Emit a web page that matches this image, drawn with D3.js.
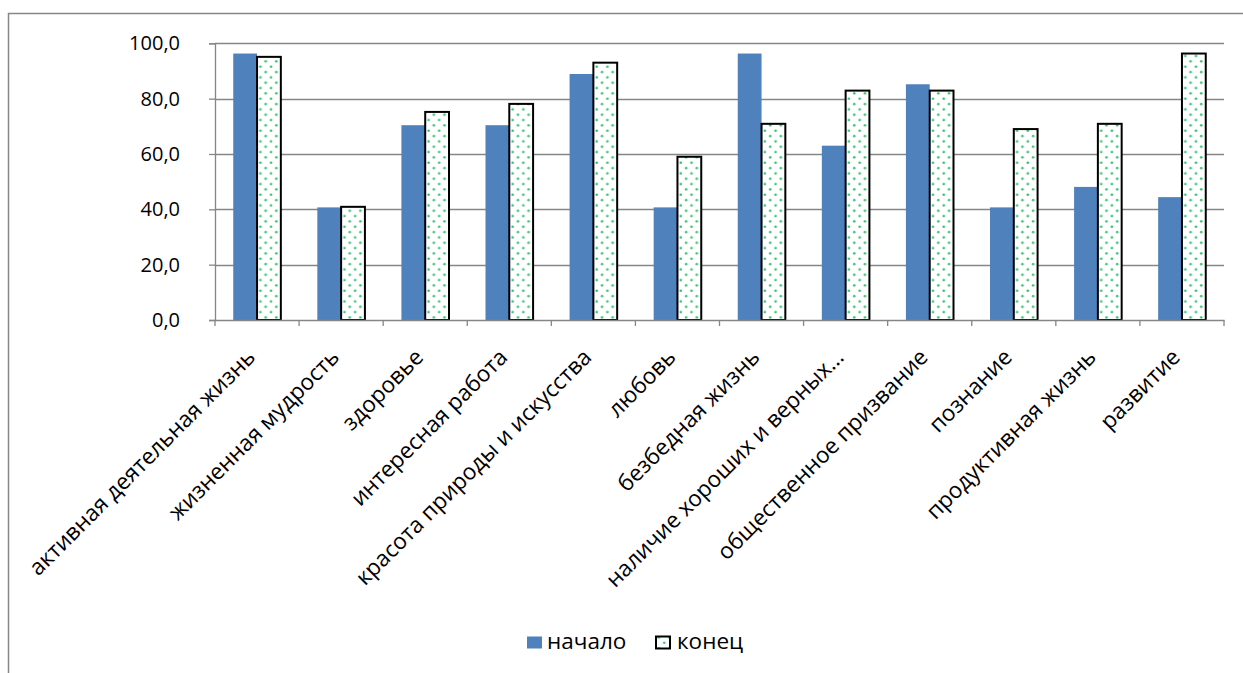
<!DOCTYPE html>
<html>
<head>
<meta charset="utf-8">
<script src="https://cdn.jsdelivr.net/npm/d3@7"></script>
<style>
  html, body { margin: 0; padding: 0; background: #fff; }
  svg { display: block; font-family: "Open Sans", "Noto Sans", sans-serif; }
</style>
</head>
<body>
<svg id="chart" width="1243" height="673"></svg>
<script>
// Ценности: доля выборов в начале и в конце
const categories = [
  "активная деятельная жизнь",
  "жизненная мудрость",
  "здоровье",
  "интересная работа",
  "красота природы и искусства",
  "любовь",
  "безбедная жизнь",
  "наличие хороших и верных…",
  "общественное призвание",
  "познание",
  "продуктивная жизнь",
  "развитие"
];
const startValues = [96.3, 40.7, 70.4, 70.4, 88.9, 40.7, 96.3, 63.0, 85.2, 40.7, 48.1, 44.4];
const endValues   = [95.1, 40.9, 75.2, 78.1, 93.0, 59.0, 70.9, 82.9, 82.9, 69.0, 70.9, 96.3];
const yTicks = [0, 20, 40, 60, 80, 100];
const seriesNames = ["начало", "конец"];

const svg = d3.select("#chart");
const W = 1243, H = 673;
const plot = { left: 215, right: 1224, top: 43.3, bottom: 320 };
const textSize = "22.5px";

// chart frame (only left and top edges fall inside the view)
svg.append("rect")
  .attr("x", 8.5).attr("y", 13.5)
  .attr("width", W + 20).attr("height", H + 20)
  .attr("fill", "#fff").attr("stroke", "#868686").attr("stroke-width", 1.5);

// dotted fill for the second series
const defs = svg.append("defs");
const pat = defs.append("pattern")
  .attr("id", "dots").attr("patternUnits", "userSpaceOnUse")
  .attr("width", 10.67).attr("height", 10.67);
pat.append("rect").attr("width", 10.67).attr("height", 10.67).attr("fill", "#fff");
[[2.7, 2.7], [8.0, 8.0]].forEach(([cx, cy]) => {
  pat.append("circle").attr("cx", cx).attr("cy", cy).attr("r", 1.3).attr("fill", "#2fc46a");
});

const x = d3.scaleBand().domain(categories).range([plot.left, plot.right]).paddingInner(0).paddingOuter(0);
const y = d3.scaleLinear().domain([0, 100]).range([plot.bottom, plot.top]);
const groupPad = 0.217; // gap on each side of a pair, as a share of the band
const inner = d3.scaleBand().domain(seriesNames)
  .range([x.bandwidth() * groupPad, x.bandwidth() * (1 - groupPad)]);

// gridlines
svg.append("g").selectAll("line").data(yTicks.filter(t => t > 0)).join("line")
  .attr("x1", plot.left).attr("x2", plot.right)
  .attr("y1", d => Math.round(y(d)) + 0.5).attr("y2", d => Math.round(y(d)) + 0.5)
  .attr("stroke", "#868686").attr("stroke-width", 1.3);

// y axis
const yAxis = svg.append("g").attr("transform", `translate(${plot.left},0)`)
  .call(d3.axisLeft(y).tickValues(yTicks).tickSize(6).tickPadding(29)
    .tickFormat(d => d3.format(".1f")(d).replace(".", ",")));
yAxis.select(".domain").attr("stroke", "#868686").attr("stroke-width", 1.3);
yAxis.selectAll(".tick line").attr("stroke", "#868686").attr("stroke-width", 1.3);
yAxis.selectAll("text").attr("font-size", "20px").attr("fill", "#000")
  .attr("font-family", "'Open Sans', sans-serif");

// bars: начало
const groups = svg.append("g").selectAll("g").data(categories).join("g")
  .attr("transform", d => `translate(${x(d)},0)`);
groups.append("rect")
  .attr("x", inner("начало")).attr("width", inner.bandwidth())
  .attr("y", (d, i) => y(startValues[i]))
  .attr("height", (d, i) => y(0) - y(startValues[i]))
  .attr("fill", "#4f81bd");
// bars: конец
groups.append("rect")
  .attr("x", inner("конец")).attr("width", inner.bandwidth())
  .attr("y", (d, i) => y(endValues[i]))
  .attr("height", (d, i) => y(0) - y(endValues[i]))
  .attr("fill", "url(#dots)").attr("stroke", "#000").attr("stroke-width", 2);

// x axis
const xAxis = svg.append("g").attr("transform", `translate(0,${plot.bottom})`)
  .call(d3.axisBottom(x).tickSize(0).tickFormat(""));
xAxis.select(".domain").attr("stroke", "#868686").attr("stroke-width", 1.3);
xAxis.selectAll(".tick").remove();
const boundaries = d3.range(categories.length + 1).map(i => plot.left + i * x.step());
xAxis.append("g").selectAll("line").data(boundaries).join("line")
  .attr("x1", d => d).attr("x2", d => d).attr("y1", 0).attr("y2", 6)
  .attr("stroke", "#868686").attr("stroke-width", 1.3);

// rotated category labels
svg.append("g").selectAll("text").data(categories).join("text")
  .attr("transform", d => `translate(${x(d) + x.bandwidth() / 2 - 6},${plot.bottom + 33}) rotate(-45)`)
  .attr("text-anchor", "end").attr("dy", "0.35em")
  .attr("font-size", textSize).attr("fill", "#000")
  .text(d => d);

// legend
const legend = svg.append("g");
legend.append("rect").attr("x", 527).attr("y", 636.5).attr("width", 15).attr("height", 12).attr("fill", "#4f81bd");
legend.append("text").attr("x", 547).attr("y", 648.5).attr("font-size", textSize).text(seriesNames[0]);
legend.append("rect").attr("x", 656).attr("y", 636.5).attr("width", 14).attr("height", 12)
  .attr("fill", "url(#dots)").attr("stroke", "#000").attr("stroke-width", 2);
legend.append("text").attr("x", 677).attr("y", 648.5).attr("font-size", textSize).text(seriesNames[1]);
</script>
</body>
</html>
